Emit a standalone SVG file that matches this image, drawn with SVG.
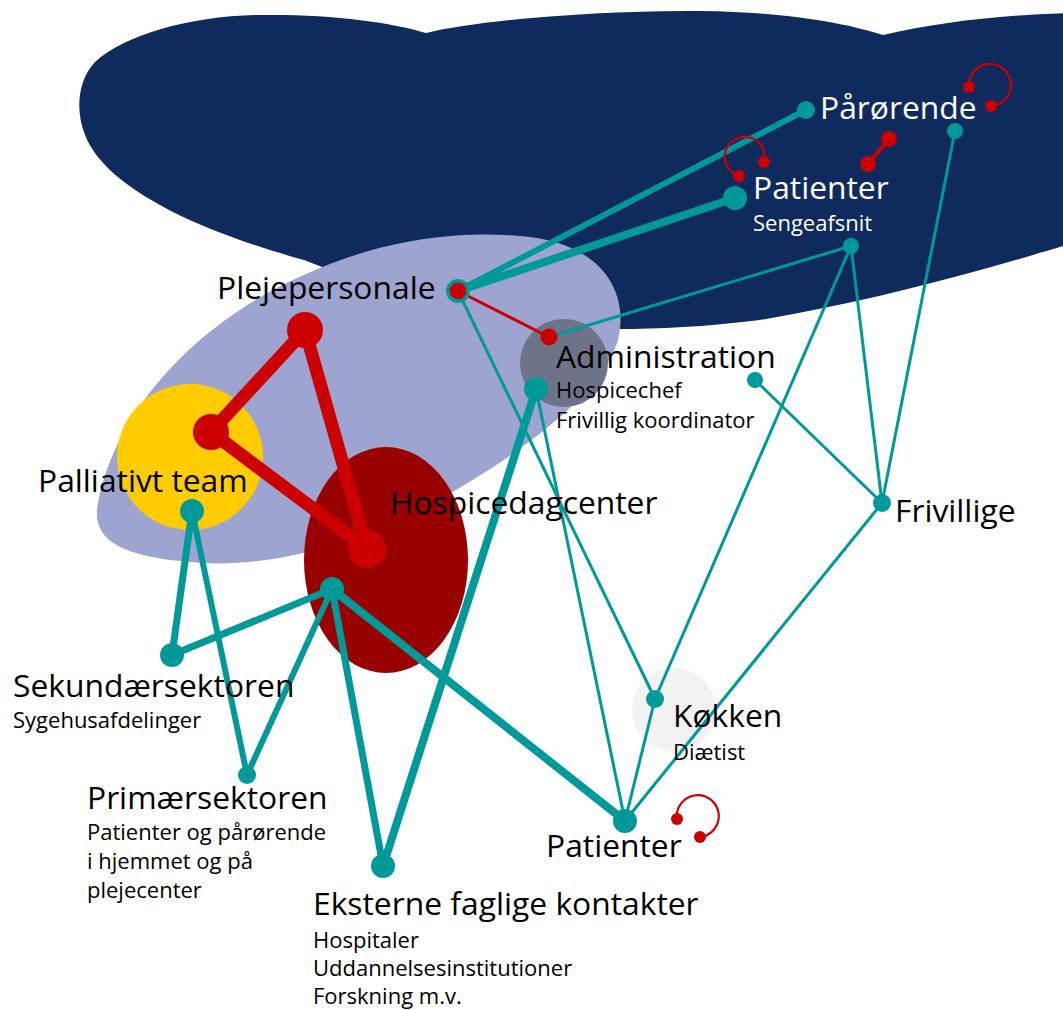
<svg xmlns="http://www.w3.org/2000/svg" width="1063" height="1010" viewBox="0 0 1063 1010">
<style>
.big{font-family:"Open Sans","Noto Sans",sans-serif;font-size:31.8px;fill:#000}
.small{font-family:"Open Sans","Noto Sans",sans-serif;font-size:22px;fill:#000}
.w{fill:#fff}
.tl{stroke:#009999;stroke-linecap:round;fill:none}
.thin{stroke-width:3}
.rl{stroke:#cc0000;stroke-linecap:round;fill:none}
.td{fill:#009999}
.rd{fill:#cc0000}
</style>
<g id="background">
<path id="hospice-area" fill="#0f2a5c" d="M 426 33 C 480 20, 600 10, 700 11 C 790 12, 850 24, 883 35 C 940 22, 1000 15, 1070 13 L 1070 244 C 990 268, 880 300, 760 320 C 680 330, 620 330, 560 328 C 480 318, 380 290, 304 260 C 260 248, 200 228, 160 205 C 120 183, 95 160, 85 135 C 75 110, 78 80, 95 62 C 125 35, 190 16, 259 15 C 330 14, 390 22, 426 33 Z"/>
<path id="team-area" fill="#9da4cf" d="M 97 510 C 110 420, 190 320, 320 268 C 400 235, 470 232, 520 236 C 600 242, 630 290, 618 340 C 600 400, 500 470, 400 520 C 320 555, 250 568, 190 562 C 120 556, 95 540, 97 510 Z"/>
<circle id="palliativ-area" cx="190" cy="457" r="73" fill="#ffcc00"/>
<ellipse id="dagcenter-area" cx="386" cy="560" rx="82" ry="113" fill="#990000"/>
<circle id="admin-area" cx="564" cy="363" r="44" fill="#6f7389"/>
<circle id="kokken-area" cx="674" cy="710" r="42" fill="#f2f2f2"/>
</g>
<g id="connectors">
<line class="tl" stroke-width="6" x1="458" y1="291" x2="806" y2="110"/>
<line class="tl" stroke-width="8" x1="458" y1="291" x2="735" y2="198"/>
<line class="tl thin" x1="458" y1="291" x2="655" y2="699"/>
<line class="tl thin" x1="549" y1="337" x2="851" y2="246"/>
<line class="tl thin" x1="851" y1="246" x2="655" y2="699"/>
<line class="tl thin" x1="851" y1="246" x2="882" y2="503"/>
<line class="tl thin" x1="955" y1="131" x2="882" y2="503"/>
<line class="tl thin" x1="755" y1="380" x2="882" y2="503"/>
<line class="tl thin" x1="882" y1="503" x2="625" y2="821"/>
<line class="tl thin" x1="655" y1="699" x2="625" y2="821"/>
<line class="tl thin" x1="536" y1="389" x2="625" y2="821"/>
<line class="tl" stroke-width="8" x1="536" y1="389" x2="383" y2="866"/>
<line class="tl" stroke-width="7" x1="192" y1="511" x2="172" y2="655"/>
<line class="tl" stroke-width="6" x1="192" y1="511" x2="247" y2="775"/>
<line class="tl" stroke-width="7" x1="172" y1="655" x2="332" y2="589"/>
<line class="tl" stroke-width="6" x1="332" y1="589" x2="247" y2="775"/>
<line class="tl" stroke-width="7" x1="332" y1="589" x2="383" y2="866"/>
<line class="tl" stroke-width="8" x1="332" y1="589" x2="625" y2="821"/>
<line class="rl" stroke-width="3" x1="458" y1="291" x2="549" y2="337"/>
<line class="rl" stroke-width="13" x1="305" y1="330" x2="211" y2="432"/>
<line class="rl" stroke-width="13" x1="305" y1="330" x2="367" y2="549"/>
<line class="rl" stroke-width="13" x1="211" y1="432" x2="367" y2="549"/>
<line class="rl" stroke-width="4" x1="868" y1="164" x2="889" y2="139"/>
<path class="rl" stroke-width="2.2" d="M 969 87 A 21 21 0 1 1 991 106"/>
<path class="rl" stroke-width="2.2" d="M 739 176 A 20 20 0 1 1 764 162"/>
<path class="rl" stroke-width="2.2" d="M 677 819 A 21 21 0 1 1 700 837"/>
</g>
<g id="node-parorende"><circle class="td" cx="806" cy="110" r="9"/><circle class="td" cx="955" cy="131" r="8"/><circle class="rd" cx="969" cy="87" r="6"/><circle class="rd" cx="991" cy="106" r="6"/><text class="big w" x="820" y="119">Pårørende</text></g>
<g id="node-patienter-seng"><circle class="td" cx="735" cy="198" r="12"/><circle class="td" cx="851" cy="246" r="8"/><circle class="rd" cx="739" cy="176" r="6"/><circle class="rd" cx="764" cy="162" r="6"/><circle class="rd" cx="868" cy="164" r="8"/><circle class="rd" cx="889" cy="139" r="8"/><text class="big w" x="753" y="199">Patienter</text><text class="small w" x="753" y="231">Sengeafsnit</text></g>
<g id="node-plejepersonale"><circle class="td" cx="458" cy="291" r="12"/><circle class="rd" cx="458" cy="291" r="8.5"/><circle class="rd" cx="305" cy="330" r="18"/><text class="big" x="217" y="299">Plejepersonale</text></g>
<g id="node-administration"><circle class="rd" cx="549" cy="337" r="8.5"/><circle class="td" cx="536" cy="389" r="12"/><circle class="td" cx="755" cy="380" r="8"/><text class="big" x="556" y="368">Administration</text><text class="small" x="556" y="398">Hospicechef</text><text class="small" x="556" y="428">Frivillig koordinator</text></g>
<g id="node-palliativt"><circle class="rd" cx="211" cy="432" r="18"/><circle class="td" cx="192" cy="511" r="12"/><text class="big" x="38" y="492">Palliativt team</text></g>
<g id="node-hospicedagcenter"><circle class="rd" cx="367" cy="549" r="19"/><circle class="td" cx="332" cy="589" r="12"/><text class="big" x="390" y="514">Hospicedagcenter</text></g>
<g id="node-frivillige"><circle class="td" cx="882" cy="503" r="9"/><text class="big" x="895" y="522">Frivillige</text></g>
<g id="node-sekundaer"><circle class="td" cx="172" cy="655" r="12"/><text class="big" x="13" y="697">Sekundærsektoren</text><text class="small" x="13" y="728">Sygehusafdelinger</text></g>
<g id="node-kokken"><circle class="td" cx="655" cy="699" r="9"/><text class="big" x="673" y="727">Køkken</text><text class="small" x="673" y="760">Diætist</text></g>
<g id="node-primaer"><circle class="td" cx="247" cy="775" r="9"/><text class="big" x="87" y="809">Primærsektoren</text><text class="small" x="87" y="840">Patienter og pårørende</text><text class="small" x="87" y="869">i hjemmet og på</text><text class="small" x="87" y="898">plejecenter</text></g>
<g id="node-patienter"><circle class="td" cx="625" cy="821" r="12"/><circle class="rd" cx="677" cy="819" r="6"/><circle class="rd" cx="700" cy="837" r="6"/><text class="big" x="546" y="857">Patienter</text></g>
<g id="node-eksterne"><circle class="td" cx="383" cy="866" r="12"/><text class="big" x="313" y="915">Eksterne faglige kontakter</text><text class="small" x="313" y="948">Hospitaler</text><text class="small" x="313" y="976">Uddannelsesinstitutioner</text><text class="small" x="313" y="1004">Forskning m.v.</text></g>
</svg>
